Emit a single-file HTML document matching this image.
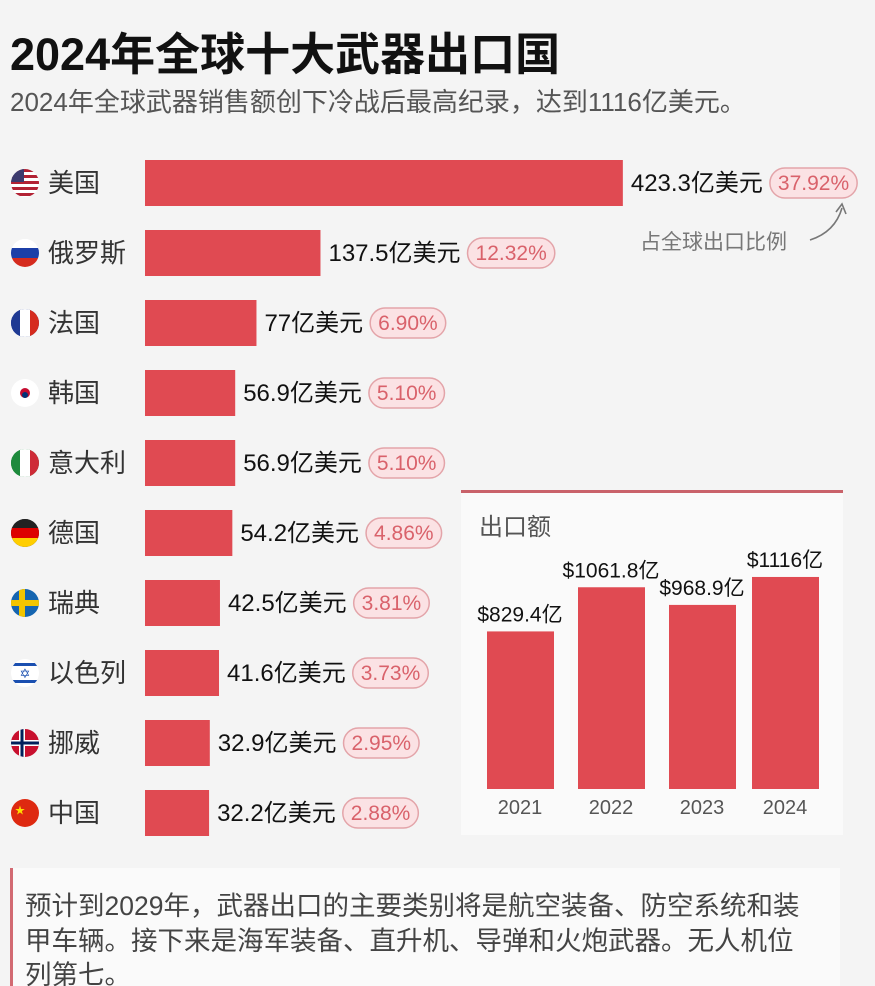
<!DOCTYPE html>
<html><head><meta charset="utf-8"><style>
html,body{margin:0;padding:0;background:#f4f4f4;}
svg{display:block;font-family:"Liberation Sans","Noto Sans CJK SC",sans-serif;}
</style></head><body>
<svg id="c" width="875" height="986" viewBox="0 0 875 986">
<defs id="defs"></defs>
<rect width="875" height="986" fill="#f4f4f4"/>
<text x="10" y="70" font-size="45" font-weight="bold" fill="#111">2024年全球十大武器出口国</text>
<text x="10" y="111" font-size="26" fill="#555">2024年全球武器销售额创下冷战后最高纪录，达到1116亿美元。</text>
<g id="rows"></g>
<text x="640" y="249" font-size="21" fill="#777">占全球出口比例</text>
<path d="M810,240 Q835,232 842,208" fill="none" stroke="#777" stroke-width="1.6"/>
<path d="M836,212 L842,204 L846,214" fill="none" stroke="#777" stroke-width="1.6"/>
<rect x="461" y="490" width="382" height="345" fill="#fafafa"/>
<rect x="461" y="490" width="382" height="3" fill="#c9626a"/>
<text x="479" y="535" font-size="24" fill="#555">出口额</text>
<g id="years"></g>
<rect x="10" y="868" width="830" height="118" fill="#fafafa"/>
<rect x="10" y="868" width="3" height="118" fill="#d26a72"/>
<text font-size="26.5" fill="#444">
<tspan x="25" y="915">预计到2029年，武器出口的主要类别将是航空装备、防空系统和装</tspan>
<tspan x="25" y="950">甲车辆。接下来是海军装备、直升机、导弹和火炮武器。无人机位</tspan>
<tspan x="25" y="984">列第七。</tspan>
</text>
</svg>
<script>
const countries=["美国","俄罗斯","法国","韩国","意大利","德国","瑞典","以色列","挪威","中国"];
const values=[423.3,137.5,77,56.9,56.9,54.2,42.5,41.6,32.9,32.2];
const valueLabels=["423.3","137.5","77","56.9","56.9","54.2","42.5","41.6","32.9","32.2"];
const shares=["37.92%","12.32%","6.90%","5.10%","5.10%","4.86%","3.81%","3.73%","2.95%","2.88%"];
const years=["2021","2022","2023","2024"];
const yearValues=[829.4,1061.8,968.9,1116];
const yearLabels=["$829.4亿","$1061.8亿","$968.9亿","$1116亿"];
const NS="http://www.w3.org/2000/svg";
function mk(t,a,p){const e=document.createElementNS(NS,t);for(const k in a)e.setAttribute(k,a[k]);p.appendChild(e);return e;}
const xw=v=>30+v*1.058;
const rowY=i=>160+70*i;
const flags=[["#fff","#fff","#3c3b6e"],["#fff","#1c3fa8","#d52b1e"],["#1f3a93","#fff","#d52b1e"],["#fff","#c60c30","#003478"],["#1d8a3c","#fff","#ce2b37"],["#222","#dd0000","#ffce00"],["#1565b0","#f2c500","#1565b0"],["#fff","#1a4fb0","#fff"],["#c8102e","#fff","#00205b"],["#de2910","#de2910","#ffde00"]];
const rows=document.getElementById('rows');
const defs=document.getElementById('defs');
countries.forEach((c,i)=>{
  const y=rowY(i),cy=y+23;
  const g=mk('g',{},rows);
  
  
  const cp=mk('clipPath',{id:'cp'+i},defs);
  mk('circle',{cx:25,cy:cy,r:14},cp);
  const fg=mk('g',{'clip-path':'url(#cp'+i+')'},g);
  
  
  const f=flags[i];
  mk('rect',{x:11,y:cy-14,width:28,height:28,fill:f[0]},fg);
  if(i===2||i===4){mk('rect',{x:11,y:cy-14,width:9,height:28,fill:f[0]},fg);mk('rect',{x:20,y:cy-14,width:10,height:28,fill:f[1]},fg);mk('rect',{x:30,y:cy-14,width:9,height:28,fill:f[2]},fg);}
  else if(i===1||i===5){mk('rect',{x:11,y:cy-14,width:28,height:9,fill:f[0]},fg);mk('rect',{x:11,y:cy-5,width:28,height:10,fill:f[1]},fg);mk('rect',{x:11,y:cy+5,width:28,height:9,fill:f[2]},fg);}
  else if(i===0){for(let k=0;k<5;k++)mk('rect',{x:11,y:cy-14+k*6,width:28,height:3,fill:'#b22234'},fg);mk('rect',{x:11,y:cy-14,width:13,height:13,fill:'#3c3b6e'},fg);}
  else if(i===3){mk('circle',{cx:25,cy:cy,r:5,fill:'#c60c30'},fg);mk('circle',{cx:25,cy:cy+2,r:3,fill:'#003478'},fg);}
  else if(i===6||i===8){mk('rect',{x:11,y:cy-3,width:28,height:6,fill:f[1]},fg);mk('rect',{x:19,y:cy-14,width:6,height:28,fill:f[1]},fg);if(i===8){mk('rect',{x:11,y:cy-1.5,width:28,height:3,fill:f[2]},fg);mk('rect',{x:20.5,y:cy-14,width:3,height:28,fill:f[2]},fg);}}
  else if(i===7){mk('rect',{x:11,y:cy-10,width:28,height:3,fill:f[1]},fg);mk('rect',{x:11,y:cy+7,width:28,height:3,fill:f[1]},fg);mk('text',{x:25,y:cy+5,'font-size':13,fill:f[1],'text-anchor':'middle'},fg).textContent='✡';}
  else if(i===9){mk('text',{x:20,y:cy+1,'font-size':10,fill:f[2],'text-anchor':'middle'},fg).textContent='★';}
  const nm=mk('text',{x:48,y:cy+9,'font-size':26,fill:'#333'},g);nm.textContent=c;
  
  
  const w=xw(values[i]);
  const b=mk('rect',{x:145,y:y,width:w,height:46,fill:'#e04a52'},g);
  
  
  const vt=mk('text',{x:145+w+8,y:cy+8,'font-size':24,fill:'#111'},g);vt.textContent=valueLabels[i]+'亿美元';
  
  
  const vx=145+w+8+vt.getComputedTextLength()+7;
  const pill=mk('rect',{x:vx,y:cy-15,width:10,height:30,rx:15,fill:'#fbe2e4',stroke:'#e3a4a9','stroke-width':1.5},g);
  
  
  const st=mk('text',{x:vx+8,y:cy+7,'font-size':21,fill:'#d9626b'},g);st.textContent=shares[i];
  pill.setAttribute('width',st.getComputedTextLength()+16);
});
const yg=document.getElementById('years');
const base=789,sc=0.19,bx=[487,578,669,752];
years.forEach((yr,i)=>{
  const h=yearValues[i]*sc;
  const r=mk('rect',{x:bx[i],y:base-h,width:67,height:h,fill:'#e04a52'},yg);
  
  
  const l=mk('text',{x:bx[i]+33,y:base-h-10,'font-size':21,fill:'#111','text-anchor':'middle'},yg);l.textContent=yearLabels[i];
  
  
  const t=mk('text',{x:bx[i]+33,y:814,'font-size':20,fill:'#555','text-anchor':'middle'},yg);t.textContent=yr;
  
  
});
</script>
</body></html>
